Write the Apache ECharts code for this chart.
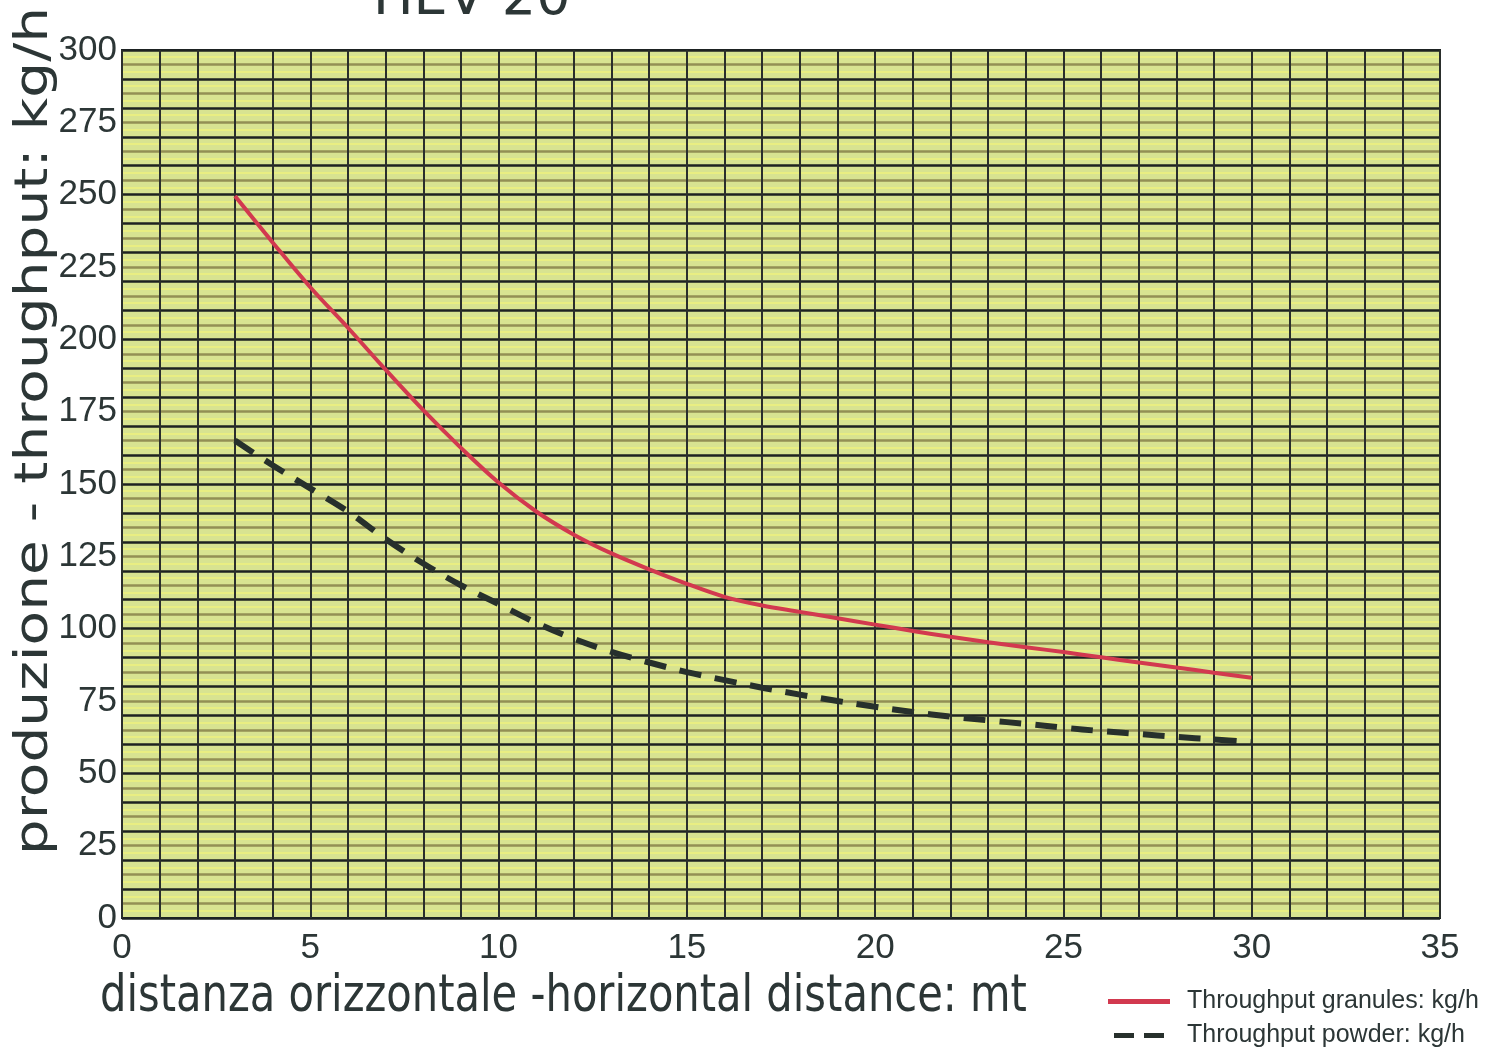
<!DOCTYPE html>
<html>
<head>
<meta charset="utf-8">
<script src="https://cdn.jsdelivr.net/npm/echarts@6/dist/echarts.min.js"></script>
<style>
html,body{margin:0;padding:0;background:#fff;}
#chart{width:1497px;height:1050px;}
</style>
</head>
<body>
<div id="chart"></div>
<script>
const distances = [3,4,5,6,7,8,9,10,11,12,13,14,15,16,17,18,19,20,21,22,23,24,25,26,27,28,29,30];
const granules = [249.5,233.5,218,204,189.5,175.5,162.5,150.5,140.5,132.5,126,120.5,115.5,111,108,105.8,103.6,101.4,99.2,97.2,95.3,93.6,91.9,90.1,88.3,86.6,84.8,83];
const powder = [165,156.5,148.5,140.5,131,122.5,115,108.5,102,96.5,92,88.3,85,82.2,79.6,77.2,75,73,71.2,69.6,68.3,67.1,65.8,64.6,63.6,62.6,61.7,60.8];
const seriesNames = ['Throughput granules: kg/h','Throughput powder: kg/h'];
const chartTitle = 'HEV 20';
const xTitle = 'distanza orizzontale -horizontal distance: mt';
const yTitle = 'produzione - throughput: kg/h';

const chart = echarts.init(document.getElementById('chart'));
const sans = '"Liberation Sans", Arial, sans-serif';
const textColor = '#2c3636';

chart.setOption({
  animation: false,
  backgroundColor: '#ffffff',
  title: {
    text: chartTitle, left: 368, top: -32,
    textStyle: {fontFamily: '"DejaVu Sans", sans-serif', fontSize: 54, fontWeight: 'normal', color: textColor}
  },
  grid: {
    left: 122, right: 57, top: 50, bottom: 132,
    show: true, backgroundColor: '#d8e391', borderColor: '#1e2424', borderWidth: 2
  },
  legend: {
    orient: 'vertical', left: 1103, top: 984, height: 70,
    itemWidth: 62, itemHeight: 5, itemGap: 9,
    textStyle: {fontFamily: sans, fontSize: 25, color: textColor, padding: [0,0,0,12]},
    data: [
      {name: seriesNames[0], icon: 'rect'},
      {name: seriesNames[1], icon: 'path://M0,0h24v6h-24z M36,0h24v6h-24z'}
    ]
  },
  xAxis: {
    type: 'value', min: 0, max: 35, interval: 1,
    axisLine: {show: false}, axisTick: {show: false},
    axisLabel: {
      margin: 13, fontFamily: sans, fontSize: 35, color: textColor,
      formatter: v => (v % 5 === 0 ? String(v) : '')
    },
    splitLine: {show: true, lineStyle: {color: '#2a2e2c', width: 2}}
  },
  yAxis: {
    type: 'value', min: 0, max: 300, interval: 5,
    axisLine: {show: false}, axisTick: {show: false},
    axisLabel: {
      margin: 5, fontFamily: sans, fontSize: 35, color: textColor,
      formatter: v => (v % 25 === 0 ? String(v) : '')
    },
    splitLine: {show: true, lineStyle: {color: ['#1e2222', '#938f55'], width: 2.5}},
    minorTick: {show: false, splitNumber: 2},
    minorSplitLine: {show: true, lineStyle: {color: '#eef27e', width: 1.5}}
  },
  graphic: [
    {
      type: 'text', x: 35, y: 431, rotation: Math.PI / 2, scaleX: 1.23, scaleY: 1,
      style: {text: yTitle, font: '46px "DejaVu Sans", sans-serif', fill: textColor,
              textAlign: 'center', textVerticalAlign: 'middle'}
    },
    {
      type: 'text', x: 100, y: 997, scaleX: 0.89, scaleY: 1,
      style: {text: xTitle, font: '52px "DejaVu Sans Condensed", "DejaVu Sans", sans-serif', fill: textColor,
              textAlign: 'left', textVerticalAlign: 'middle'}
    }
  ],
  series: [
    {
      name: seriesNames[0], type: 'line', smooth: 0.35, symbol: 'none',
      data: distances.map((d, i) => [d, granules[i]]),
      lineStyle: {color: '#d2394f', width: 4},
      itemStyle: {color: '#d2394f'}, z: 5
    },
    {
      name: seriesNames[1], type: 'line', smooth: 0.35, symbol: 'none',
      data: distances.map((d, i) => [d, powder[i]]),
      lineStyle: {color: '#27302c', width: 6, type: [22, 14]},
      itemStyle: {color: '#27302c'}, z: 5
    }
  ]
});
</script>
</body>
</html>
